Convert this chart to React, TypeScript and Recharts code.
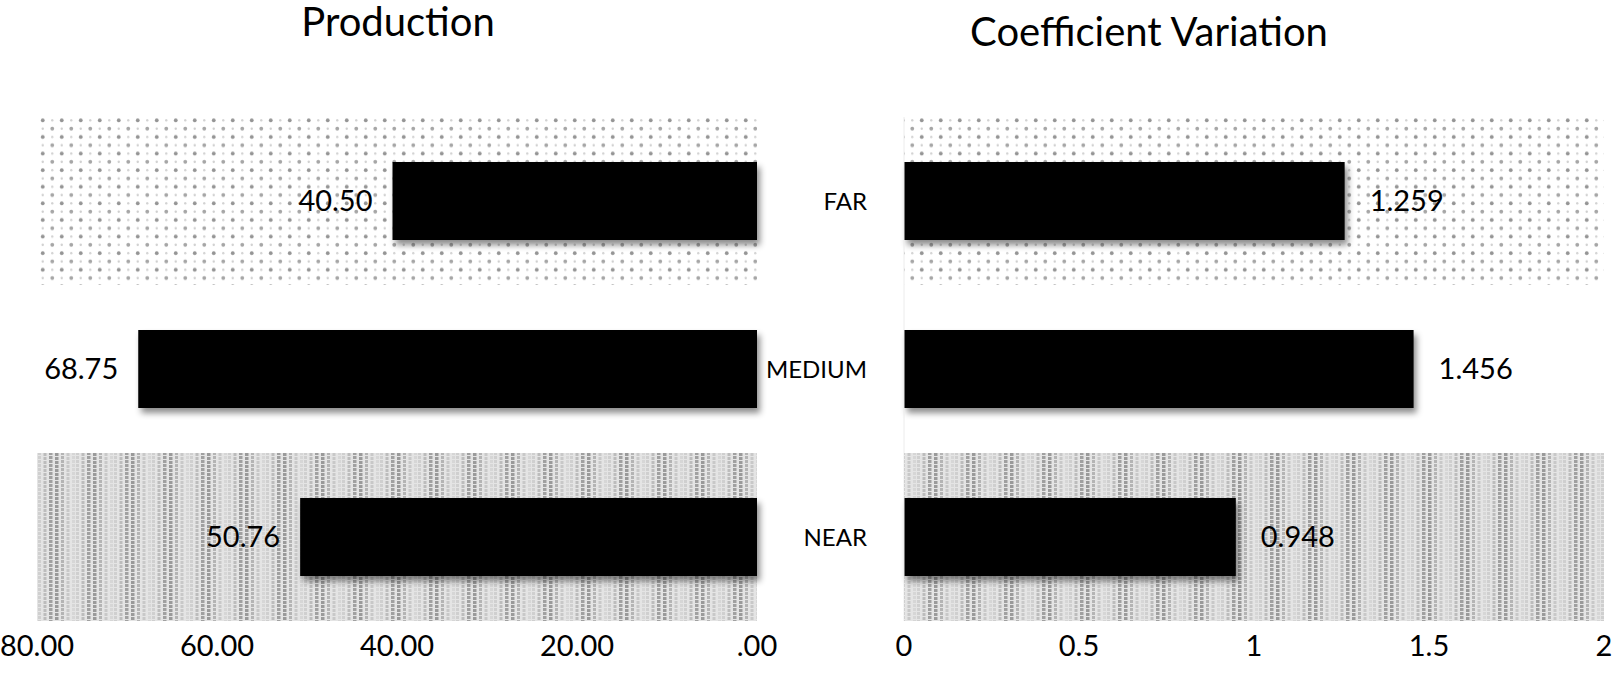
import React from 'react';
import { BarChart, Bar, XAxis, YAxis, ReferenceArea, LabelList, Rectangle } from 'recharts';

const categories = ['FAR', 'MEDIUM', 'NEAR'];
const production = [40.5, 68.75, 50.76];
const coefVariation = [1.259, 1.456, 0.948];
const productionTicks = [0, 20, 40, 60, 80];
const cvTicks = [0, 0.5, 1, 1.5, 2];

const prodData = categories.map((name, i) => ({ name, value: production[i] }));
const cvData = categories.map((name, i) => ({ name, value: coefVariation[i] }));

// which background texture sits behind each row
const bandFill: Record<string, string> = { FAR: 'url(#dots)', NEAR: 'url(#stripes)' };

const FONT = 'Lato, "Open Sans", sans-serif';
const tickStyle = { fill: '#000', fontSize: 29, fontFamily: FONT };

function Patterns() {
  return (
    <defs>
      <pattern id="dots" width="19" height="16.6" patternUnits="userSpaceOnUse">
        <rect width="19" height="16.6" fill="#fff" />
        <circle cx="4.75" cy="4.15" r="1.9" fill="#959595" />
        <circle cx="14.25" cy="12.45" r="1.9" fill="#a6a6a6" />
        <circle cx="14.25" cy="4.15" r="1.2" fill="#d2d2d2" />
        <circle cx="4.75" cy="12.45" r="1.2" fill="#cfcfcf" />
      </pattern>
      <pattern id="stripes" width="38" height="4" patternUnits="userSpaceOnUse">
        <rect width="38" height="4" fill="#e4e4e4" />
        <rect x="0" y="0" width="3" height="3" fill="#cfcfcf" />
        <rect x="5.5" y="1" width="3" height="3" fill="#bcbcbc" />
        <rect x="11" y="0" width="3.5" height="3" fill="#a0a0a0" />
        <rect x="17" y="1" width="3.5" height="3" fill="#9a9a9a" />
        <rect x="23" y="0" width="3" height="3" fill="#b4b4b4" />
        <rect x="28.5" y="1" width="3" height="3" fill="#c8c8c8" />
        <rect x="34" y="0" width="3" height="3" fill="#d6d6d6" />
      </pattern>
      <filter id="shadow" x="-10%" y="-20%" width="130%" height="160%">
        <feDropShadow dx="3" dy="5" stdDeviation="3" floodColor="#000" floodOpacity="0.45" />
      </filter>
    </defs>
  );
}

const ShadowBar = (props: any) => <Rectangle {...props} fill="#000" filter="url(#shadow)" />;

export default function App() {
  return (
    <div style={{ position: 'absolute', left: 0, top: 0, width: 1614, height: 686, background: '#fff', fontFamily: FONT }}>
      <div style={{ position: 'absolute', left: 198, width: 400, top: 1, textAlign: 'center', fontSize: 40, lineHeight: '40px', color: '#000' }}>
        Production
      </div>
      <div style={{ position: 'absolute', left: 899, width: 500, top: 11, textAlign: 'center', fontSize: 40, lineHeight: '40px', color: '#000' }}>
        Coefficient Variation
      </div>

      <div style={{ position: 'absolute', left: 0, top: 0 }}>
        <BarChart width={790} height={686} data={prodData} layout="vertical" margin={{ top: 117, right: 33, bottom: 15, left: 37 }} barSize={78}>
          <Patterns />
          <XAxis
            type="number"
            domain={[0, 80]}
            ticks={productionTicks}
            reversed
            height={50}
            axisLine={false}
            tickLine={false}
            tickSize={0}
            tickMargin={14}
            tick={tickStyle}
            tickFormatter={(v: number) => (v === 0 ? '.00' : v.toFixed(2))}
            interval={0}
          />
          <YAxis type="category" dataKey="name" hide />
          {categories.filter((c) => bandFill[c]).map((c) => (
            <ReferenceArea key={c} y1={c} y2={c} fill={bandFill[c]} fillOpacity={1} stroke="none" />
          ))}
          <Bar dataKey="value" fill="#000" shape={ShadowBar} isAnimationActive={false}>
            <LabelList dataKey="value" position="right" offset={20} fill="#000" fontSize={29} fontFamily={FONT} formatter={(v: any) => Number(v).toFixed(2)} />
          </Bar>
        </BarChart>
      </div>

      <div style={{ position: 'absolute', left: 765, top: 0 }}>
        <BarChart width={849} height={686} data={cvData} layout="vertical" margin={{ top: 117, right: 10, bottom: 15, left: 0 }} barSize={78}>
          <Patterns />
          <XAxis
            type="number"
            domain={[0, 2]}
            ticks={cvTicks}
            height={50}
            axisLine={false}
            tickLine={false}
            tickSize={0}
            tickMargin={14}
            tick={tickStyle}
            interval={0}
          />
          <YAxis
            type="category"
            dataKey="name"
            width={139}
            axisLine={{ stroke: '#ececec' }}
            tickLine={false}
            tickSize={0}
            tickMargin={37}
            tick={{ fill: '#000', fontSize: 24, fontFamily: FONT }}
          />
          {categories.filter((c) => bandFill[c]).map((c) => (
            <ReferenceArea key={c} y1={c} y2={c} fill={bandFill[c]} fillOpacity={1} stroke="none" />
          ))}
          <Bar dataKey="value" fill="#000" shape={ShadowBar} isAnimationActive={false}>
            <LabelList dataKey="value" position="right" offset={25} fill="#000" fontSize={29} fontFamily={FONT} formatter={(v: any) => Number(v).toFixed(3)} />
          </Bar>
        </BarChart>
      </div>
    </div>
  );
}
